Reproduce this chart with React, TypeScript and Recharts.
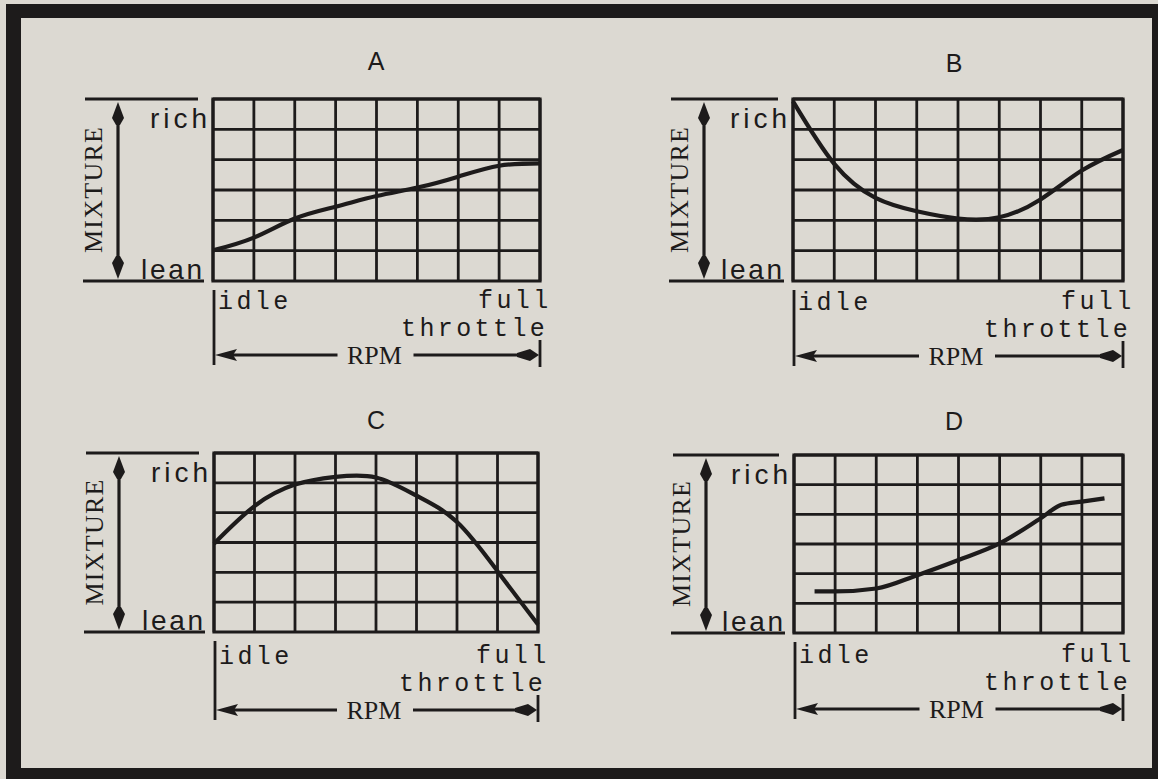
import React from 'react';
import { LineChart, Line, XAxis, YAxis, CartesianGrid, ReferenceArea } from 'recharts';

// ---- data ----
const panelNames = ['A', 'B', 'C', 'D'];
const rpmSteps = [0, 1, 2, 3, 4, 5, 6, 7, 8];
const rpmStepsD = [0.5, 1, 2, 3, 4, 5, 6, 6.5, 7, 7.55];
const mixtureA = [1.01, 1.43, 2.06, 2.45, 2.8, 3.08, 3.44, 3.8, 3.88];
const mixtureB = [5.92, 3.86, 2.74, 2.3, 2.06, 2.1, 2.69, 3.64, 4.32];
const mixtureC = [2.96, 4.22, 4.94, 5.2, 5.18, 4.57, 3.69, 2.04, 0.25];
const mixtureD = [1.4, 1.4, 1.5, 1.95, 2.46, 3.02, 3.87, 4.32, 4.43, 4.54];
const gridX = [0, 1, 2, 3, 4, 5, 6, 7, 8];
const gridY = [0, 1, 2, 3, 4, 5, 6];
const yLabels = ['rich', 'lean'];
const yTitle = 'MIXTURE';
const xLabels = ['idle', 'full', 'throttle'];
const xTitle = 'RPM';

const INK = '#1d1b1b';
const PAPER = '#dcd9d2';

// ---- layout ----
const layouts = [
  { gx: 213, gy: 99, gw: 327, gh: 182, ax: 118, tx: 376, ty: 70, ld: 0, curve: 'natural' },
  { gx: 793, gy: 99, gw: 330, gh: 182, ax: 704, tx: 954, ty: 72, ld: 1, curve: 'natural' },
  { gx: 214, gy: 453, gw: 324, gh: 179, ax: 119, tx: 376, ty: 429, ld: 4, curve: 'natural' },
  { gx: 794, gy: 455, gw: 329, gh: 178, ax: 706, tx: 954, ty: 430, ld: 2, curve: 'monotone' },
];

const series = [
  { xs: rpmSteps, ys: mixtureA },
  { xs: rpmSteps, ys: mixtureB },
  { xs: rpmSteps, ys: mixtureC },
  { xs: rpmStepsD, ys: mixtureD },
];

const PAD = 5;

function PanelChart({ L, xs, ys }: any) {
  const data = xs.map((x: number, i: number) => ({ rpm: x, mixture: ys[i] }));
  return (
    <div style={{ position: 'absolute', left: L.gx - PAD, top: L.gy - PAD }}>
      <LineChart
        width={L.gw + 2 * PAD}
        height={L.gh + 2 * PAD}
        data={data}
        margin={{ top: PAD, right: PAD, bottom: PAD, left: PAD }}
      >
        <XAxis dataKey="rpm" type="number" domain={[0, 8]} ticks={gridX} hide />
        <YAxis type="number" domain={[0, 6]} ticks={gridY} hide />
        <CartesianGrid stroke={INK} strokeWidth={2.8} horizontalValues={gridY} verticalValues={gridX} />
        <ReferenceArea x1={0} x2={8} y1={0} y2={6} fill="none" fillOpacity={0} stroke={INK} strokeWidth={3.2} ifOverflow="visible" />
        <Line
          dataKey="mixture"
          type={L.curve}
          stroke={INK}
          strokeWidth={4.2}
          dot={false}
          isAnimationActive={false}
        />
      </LineChart>
    </div>
  );
}

function Annotations({ L, name }: any) {
  const gx2 = L.gx + L.gw;
  const gy2 = L.gy + L.gh;
  const ld = L.ld;
  const ax = L.ax;
  const ay = gy2 + 74 + ld;
  const rcx = L.gx + L.gw / 2 - 2;
  const top = L.gy + 3;
  const bot = gy2 - 2;
  return (
    <g>
      {/* title */}
      <text x={L.tx} y={L.ty} textAnchor="middle" fontFamily="Liberation Sans, Arial, sans-serif" fontSize={25} fill={INK}>
        {name}
      </text>
      {/* mixture bracket lines */}
      <line x1={ax - 33} x2={L.gx - 15} y1={L.gy} y2={L.gy} stroke={INK} strokeWidth={2.8} />
      <line x1={ax - 35} x2={L.gx - 9} y1={gy2} y2={gy2} stroke={INK} strokeWidth={2.8} />
      <line x1={ax} x2={ax} y1={top + 6} y2={bot - 6} stroke={INK} strokeWidth={3.2} />
      <path d={`M${ax},${top} L${ax + 6},${top + 16} L${ax + 2},${top + 23} L${ax - 2},${top + 23} L${ax - 6},${top + 16} Z`} fill={INK} />
      <path d={`M${ax},${bot} L${ax + 6},${bot - 16} L${ax + 2},${bot - 23} L${ax - 2},${bot - 23} L${ax - 6},${bot - 16} Z`} fill={INK} />
      <text
        x={ax - 25}
        y={(L.gy + gy2) / 2}
        transform={`rotate(-90 ${ax - 25} ${(L.gy + gy2) / 2})`}
        textAnchor="middle"
        dominantBaseline="central"
        fontFamily="Liberation Serif, Times New Roman, serif"
        fontSize={26}
        textLength={126}
        lengthAdjust="spacing"
        fill={INK}
      >
        {yTitle}
      </text>
      <text x={L.gx - 63} y={L.gy + 29} fontFamily="Liberation Sans, Arial, sans-serif" fontSize={28} textLength={57} lengthAdjust="spacing" fill={INK}>
        {yLabels[0]}
      </text>
      <text x={L.gx - 72} y={gy2 - 2} fontFamily="Liberation Sans, Arial, sans-serif" fontSize={28} textLength={61} lengthAdjust="spacing" fill={INK}>
        {yLabels[1]}
      </text>
      {/* rpm labels */}
      <line x1={L.gx + 1} x2={L.gx + 1} y1={gy2 + 9} y2={gy2 + 84 + ld} stroke={INK} strokeWidth={2.8} />
      <line x1={gx2} x2={gx2} y1={gy2 + 59 + ld} y2={gy2 + 86 + ld} stroke={INK} strokeWidth={2.8} />
      <text x={L.gx + 5} y={gy2 + 28 + ld} fontFamily="Liberation Mono, Courier New, monospace" fontSize={25} letterSpacing={3.4} fill={INK}>
        {xLabels[0]}
      </text>
      <text x={gx2 - 62} y={gy2 + 27 + ld} fontFamily="Liberation Mono, Courier New, monospace" fontSize={25} letterSpacing={3.4} fill={INK}>
        {xLabels[1]}
      </text>
      <text x={gx2 - 139} y={gy2 + 55 + ld} fontFamily="Liberation Mono, Courier New, monospace" fontSize={25} letterSpacing={3.4} fill={INK}>
        {xLabels[2]}
      </text>
      <line x1={L.gx + 10} x2={rcx - 37} y1={ay} y2={ay} stroke={INK} strokeWidth={2.8} />
      <line x1={rcx + 39} x2={gx2 - 10} y1={ay} y2={ay} stroke={INK} strokeWidth={2.8} />
      <path d={`M${L.gx + 2},${ay} L${L.gx + 24},${ay - 6} L${L.gx + 20},${ay} L${L.gx + 24},${ay + 6} Z`} fill={INK} />
      <path d={`M${gx2 - 1},${ay} L${gx2 - 10},${ay - 6} L${gx2 - 23},${ay - 2} L${gx2 - 23},${ay + 2} L${gx2 - 10},${ay + 6} Z`} fill={INK} />
      <text x={rcx} y={gy2 + 83 + ld} textAnchor="middle" fontFamily="Liberation Serif, Times New Roman, serif" fontSize={26} fill={INK}>
        {xTitle}
      </text>
    </g>
  );
}

export default function App() {
  return (
    <div style={{ position: 'absolute', left: 0, top: 0, width: 1158, height: 779, background: PAPER, overflow: 'hidden' }}>
      <svg width={1158} height={779} style={{ position: 'absolute', left: 0, top: 0 }}>
        <rect x={0} y={0} width={1158} height={779} fill={PAPER} />
        <rect x={6} y={4} width={1152} height={14} fill={INK} />
        <rect x={6} y={4} width={15} height={775} fill={INK} />
        <rect x={1152} y={4} width={6} height={775} fill={INK} />
        <rect x={6} y={768} width={1152} height={11} fill={INK} />
        {layouts.map((L, i) => (
          <Annotations key={i} L={L} name={panelNames[i]} />
        ))}
      </svg>
      {layouts.map((L, i) => (
        <PanelChart key={i} L={L} xs={series[i].xs} ys={series[i].ys} />
      ))}
    </div>
  );
}
